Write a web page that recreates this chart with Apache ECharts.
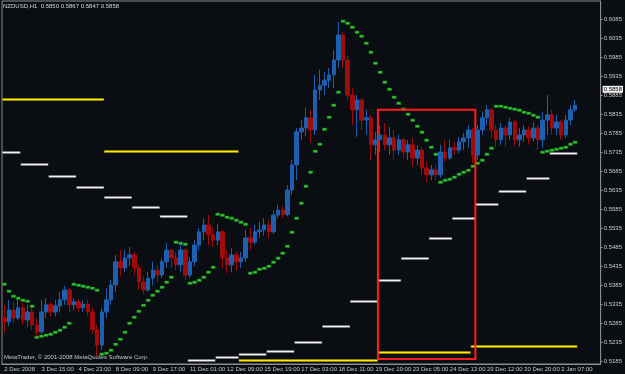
<!DOCTYPE html>
<html><head><meta charset="utf-8">
<script src="https://cdn.jsdelivr.net/npm/echarts@6/dist/echarts.min.js"></script>
<style>html,body{margin:0;padding:0;background:#0a0d11;}#c{width:625px;height:374px;}</style>
</head><body><div id="c"></div>
<script>
const symbolTitle = 'NZDUSD,H1';
const lastBar = [0.5850, 0.5867, 0.5847, 0.5858];
const copyright = 'MetaTrader, \u00a9 2001-2008 MetaQuotes Software Corp.';
const timeLabels = ['2 Dec 2008','3 Dec 15:00','4 Dec 23:00','8 Dec 09:00','9 Dec 17:00','11 Dec 01:00','12 Dec 09:00','15 Dec 19:00','17 Dec 03:00','18 Dec 11:00','19 Dec 19:00','23 Dec 05:00','24 Dec 13:00','29 Dec 12:00','30 Dec 20:00','2 Jan 07:00'];
const labelEvery = 8;
const barCount = 129;
const yTicks = [0.5185,0.5235,0.5285,0.5335,0.5385,0.5435,0.5485,0.5535,0.5585,0.5635,0.5685,0.5735,0.5785,0.5835,0.5885,0.5935,0.5985,0.6035,0.6085];
const yMin = 0.51771, yMax = 0.61324;
// [open, close, low, high] per 4-hour bar
const ohlc = [
[0.5298,0.5288,0.5259,0.5333],[0.5288,0.5319,0.5277,0.5346],[0.5319,0.5298,0.5285,0.5341],[0.5298,0.5325,0.5293,0.5346],
[0.5325,0.5293,0.5282,0.5338],[0.5293,0.5314,0.5275,0.5333],[0.5314,0.5280,0.5267,0.5325],[0.5280,0.5262,0.5249,0.5298],
[0.5262,0.5314,0.5256,0.5346],[0.5314,0.5333,0.5298,0.5351],[0.5333,0.5314,0.5301,0.5341],[0.5314,0.5330,0.5303,0.5346],
[0.5330,0.5346,0.5314,0.5367],[0.5346,0.5372,0.5333,0.5382],[0.5372,0.5333,0.5314,0.5377],[0.5333,0.5341,0.5319,0.5351],
[0.5341,0.5325,0.5314,0.5346],[0.5325,0.5335,0.5314,0.5346],[0.5335,0.5314,0.5303,0.5346],[0.5314,0.5267,0.5256,0.5325],
[0.5267,0.5227,0.5198,0.5280],[0.5227,0.5314,0.5214,0.5325],[0.5314,0.5346,0.5298,0.5377],[0.5346,0.5385,0.5333,0.5398],
[0.5385,0.5446,0.5367,0.5464],[0.5446,0.5430,0.5408,0.5477],[0.5430,0.5456,0.5419,0.5477],[0.5456,0.5464,0.5435,0.5485],
[0.5464,0.5430,0.5411,0.5472],[0.5430,0.5393,0.5372,0.5438],[0.5393,0.5372,0.5361,0.5408],[0.5372,0.5403,0.5367,0.5419],
[0.5403,0.5424,0.5385,0.5446],[0.5424,0.5411,0.5393,0.5438],[0.5411,0.5446,0.5403,0.5456],[0.5446,0.5477,0.5430,0.5495],
[0.5477,0.5456,0.5430,0.5477],[0.5456,0.5438,0.5424,0.5472],[0.5438,0.5477,0.5419,0.5495],[0.5477,0.5411,0.5398,0.5482],
[0.5411,0.5446,0.5403,0.5459],[0.5446,0.5490,0.5435,0.5503],[0.5490,0.5525,0.5477,0.5535],[0.5525,0.5543,0.5503,0.5561],
[0.5543,0.5517,0.5490,0.5569],[0.5517,0.5503,0.5485,0.5535],[0.5503,0.5525,0.5490,0.5545],[0.5525,0.5456,0.5430,0.5530],
[0.5456,0.5438,0.5416,0.5477],[0.5438,0.5464,0.5419,0.5482],[0.5464,0.5446,0.5424,0.5472],[0.5446,0.5456,0.5430,0.5472],
[0.5456,0.5509,0.5446,0.5530],[0.5509,0.5498,0.5477,0.5535],[0.5498,0.5525,0.5492,0.5543],[0.5525,0.5530,0.5509,0.5551],
[0.5530,0.5543,0.5514,0.5561],[0.5543,0.5525,0.5509,0.5556],[0.5525,0.5569,0.5519,0.5582],[0.5569,0.5582,0.5561,0.5596],
[0.5582,0.5571,0.5561,0.5593],[0.5571,0.5635,0.5566,0.5648],[0.5635,0.5701,0.5622,0.5714],[0.5701,0.5788,0.5661,0.5798],
[0.5788,0.5798,0.5767,0.5819],[0.5798,0.5825,0.5777,0.5851],[0.5825,0.5793,0.5759,0.5846],[0.5793,0.5898,0.5780,0.5938],
[0.5898,0.5911,0.5872,0.5951],[0.5911,0.5924,0.5885,0.5946],[0.5924,0.5938,0.5903,0.5956],[0.5938,0.5977,0.5903,0.6003],
[0.5977,0.6043,0.5956,0.6077],[0.6043,0.5977,0.5956,0.6051],[0.5977,0.5885,0.5872,0.5990],[0.5885,0.5846,0.5806,0.5903],
[0.5846,0.5872,0.5775,0.5885],[0.5872,0.5819,0.5793,0.5877],[0.5819,0.5825,0.5780,0.5846],[0.5825,0.5754,0.5714,0.5833],
[0.5754,0.5767,0.5727,0.5788],[0.5767,0.5780,0.5735,0.5806],[0.5780,0.5754,0.5740,0.5811],[0.5754,0.5772,0.5727,0.5801],
[0.5772,0.5740,0.5714,0.5793],[0.5740,0.5767,0.5727,0.5780],[0.5767,0.5735,0.5719,0.5772],[0.5735,0.5754,0.5714,0.5767],
[0.5754,0.5719,0.5696,0.5772],[0.5719,0.5740,0.5701,0.5754],[0.5740,0.5693,0.5675,0.5749],[0.5693,0.5675,0.5656,0.5709],
[0.5675,0.5688,0.5661,0.5701],[0.5688,0.5675,0.5661,0.5701],[0.5675,0.5735,0.5667,0.5754],[0.5735,0.5719,0.5709,0.5767],
[0.5719,0.5746,0.5714,0.5767],[0.5746,0.5740,0.5727,0.5762],[0.5740,0.5762,0.5732,0.5775],[0.5762,0.5772,0.5740,0.5785],
[0.5772,0.5793,0.5746,0.5806],[0.5793,0.5727,0.5706,0.5798],[0.5727,0.5793,0.5714,0.5806],[0.5793,0.5825,0.5780,0.5841],
[0.5825,0.5846,0.5806,0.5859],[0.5846,0.5793,0.5772,0.5851],[0.5793,0.5767,0.5749,0.5806],[0.5767,0.5798,0.5754,0.5811],
[0.5798,0.5780,0.5749,0.5806],[0.5780,0.5814,0.5767,0.5825],[0.5814,0.5767,0.5749,0.5819],[0.5767,0.5780,0.5749,0.5798],
[0.5780,0.5793,0.5762,0.5806],[0.5793,0.5772,0.5754,0.5803],[0.5772,0.5798,0.5762,0.5814],[0.5798,0.5767,0.5740,0.5806],
[0.5767,0.5819,0.5746,0.5841],[0.5819,0.5833,0.5780,0.5885],[0.5833,0.5798,0.5780,0.5846],[0.5798,0.5814,0.5780,0.5833],
[0.5814,0.5780,0.5767,0.5819],[0.5780,0.5819,0.5772,0.5833],[0.5819,0.5846,0.5806,0.5859],[0.5846,0.5858,0.5841,0.5872]
];
// Parabolic-SAR style steps, one value per bar
const sar = [
0.5387,0.5369,0.5356,0.5351,0.5346,0.5343,0.5330,
0.5249,0.5251,0.5254,0.5256,0.5262,0.5267,0.5275,0.5285,
0.5387,0.5385,0.5382,0.5380,0.5377,0.5372,
0.5203,0.5206,0.5214,0.5229,0.5243,0.5262,0.5285,0.5301,0.5316,0.5333,0.5346,0.5359,0.5369,0.5380,0.5393,0.5406,
0.5498,0.5495,0.5492,
0.5390,0.5393,0.5398,0.5406,0.5419,0.5433,
0.5571,0.5569,0.5564,0.5561,0.5556,0.5551,0.5545,
0.5416,0.5419,0.5427,0.5430,0.5435,0.5446,0.5456,0.5469,0.5487,0.5525,0.5561,0.5601,0.5645,0.5683,0.5737,0.5756,0.5795,0.5828,0.5859,0.5893,
0.6079,0.6074,0.6064,0.6051,0.6040,0.6022,0.5998,0.5969,0.5946,0.5919,0.5900,0.5880,0.5864,0.5848,0.5835,0.5819,0.5803,0.5788,0.5767,0.5749,0.5729,
0.5656,0.5661,0.5664,0.5670,0.5677,0.5683,0.5688,0.5698,0.5706,0.5714,0.5729,0.5746,
0.5856,0.5855,0.5854,0.5851,0.5848,0.5846,0.5841,0.5838,0.5833,0.5828,
0.5735,0.5738,0.5740,0.5743,0.5746,0.5749,0.5756,0.5762
];
// [startBar, endBar, price]
const dailyLevels = [[0,4,0.5735],[4,10,0.5703],[10,16,0.5672],[16,22,0.5643],[22,28,0.5617],[28,34,0.5591],[34,40,0.5566],[40,46,0.5188],[46,51,0.5196],[51,57,0.5203],[57,63,0.5211],[63,69,0.5235],[69,75,0.5277],[75,81,0.5343],[81,86,0.5398],[86,92,0.5456],[92,97,0.5509],[97,102,0.5561],[102,107,0.5598],[107,113,0.5632],[113,118,0.5667],[118,124,0.5732]];
const weeklyLevels = [[0,22,0.5874],[22,51,0.5737],[51,81,0.5188],[81,101,0.5209],[101,124,0.5224]];
// [startBar, endBar, topPrice, bottomPrice]
const boxes = [[81,102,0.5846,0.5190]];

const FONT = '"Liberation Sans",Arial,sans-serif';
const FS = 6;
const categories = Array.from({length: barCount}, (_, i) => (i % labelEvery === 0 && timeLabels[i / labelEvery]) ? timeLabels[i / labelEvery] : '');

function segRender(color, width, edge) {
  return function (params, api) {
    const band = api.size([1, 0])[0];
    const p1 = api.coord([api.value(0), api.value(2)]);
    const p2 = api.coord([api.value(1), api.value(2)]);
    const x1 = p1[0] - band / 2, x2 = p2[0] - band / 2, y = Math.round(p1[1]) + 0.5;
    return {type: 'group', children: [
      {type: 'line', shape: {x1, y1: y, x2, y2: y}, style: {stroke: edge, lineWidth: width + 1}},
      {type: 'line', shape: {x1: x1 + 0.5, y1: y, x2: x2 - 0.5, y2: y}, style: {stroke: color, lineWidth: width}}
    ]};
  };
}

const chart = echarts.init(document.getElementById('c'), null, {renderer: 'canvas'});
chart.setOption({
  backgroundColor: '#0a0d11',
  animation: false,
  title: {
    text: symbolTitle + '  ' + lastBar.map(v => v.toFixed(4)).join(' '),
    left: 3, top: 3, padding: 0,
    textStyle: {color: '#d6d6d6', fontSize: FS, fontWeight: 'normal', fontFamily: FONT}
  },
  graphic: [{type: 'text', left: 4, top: 354, style: {text: copyright, fill: '#c8c8c8', font: FS + 'px ' + FONT}}],
  grid: {left: 2, top: 1, width: 601, height: 363, show: true, borderColor: '#8c8c8c', borderWidth: 1, backgroundColor: 'transparent'},
  xAxis: {
    type: 'category', data: categories, boundaryGap: true,
    axisLine: {lineStyle: {color: '#8c8c8c'}},
    axisTick: {interval: (i) => i % labelEvery === 0, length: 3, lineStyle: {color: '#8c8c8c'}},
    axisLabel: {interval: (i) => i % labelEvery === 0, align: 'left', margin: 2, color: '#c8c8c8', fontSize: FS, fontFamily: FONT},
    splitLine: {show: false}
  },
  yAxis: {
    type: 'value', position: 'right', min: yMin, max: yMax, scale: true,
    axisLine: {show: true, lineStyle: {color: '#8c8c8c'}},
    axisTick: {show: true, customValues: yTicks, length: 2, lineStyle: {color: '#8c8c8c'}},
    axisLabel: {customValues: yTicks, formatter: v => v.toFixed(4), margin: 3, color: '#c8c8c8', fontSize: FS, fontFamily: FONT},
    splitLine: {show: false}
  },
  series: [
    {
      type: 'candlestick', data: ohlc, barWidth: 4,
      itemStyle: {color: '#1d5fb0', color0: '#a00c0c', borderColor: '#1d5fb0', borderColor0: '#a00c0c', borderWidth: 1},
      markLine: {
        silent: true, symbol: 'none', animation: false,
        lineStyle: {color: 'rgba(0,0,0,0)', width: 0},
        data: [{yAxis: lastBar[3]}],
        label: {show: true, position: 'end', distance: 2, formatter: () => lastBar[3].toFixed(4), color: '#000', backgroundColor: '#f0f0f0', padding: [1, 1, 0, 1], fontSize: FS, fontFamily: FONT}
      }
    },
    {
      type: 'custom', data: sar.map((v, i) => [i, v]), encode: {x: 0, y: 1},
      renderItem: function (params, api) {
        const band = api.size([1, 0])[0];
        const p = api.coord([api.value(0), api.value(1)]);
        return {type: 'rect', shape: {x: p[0] - band / 2 + 0.3, y: Math.round(p[1]) - 1, width: band - 0.6, height: 2.5},
          style: {fill: '#33c433', stroke: '#1a7a1a', lineWidth: 0.5}};
      }
    },
    {type: 'custom', data: dailyLevels, encode: {x: 0, y: 2}, renderItem: segRender('#f2f2f2', 1.5, '#6a6a6a')},
    {type: 'custom', data: weeklyLevels, encode: {x: 0, y: 2}, renderItem: segRender('#ffee00', 1.5, '#8a7a00')},
    {
      type: 'custom', data: boxes, encode: {x: 0, y: [2, 3]},
      renderItem: function (params, api) {
        const band = api.size([1, 0])[0];
        const a = api.coord([api.value(0), api.value(2)]);
        const b = api.coord([api.value(1), api.value(3)]);
        return {type: 'rect', shape: {x: a[0] - band / 2, y: a[1], width: b[0] - a[0], height: b[1] - a[1]},
          style: {fill: 'none', stroke: '#ff1c1c', lineWidth: 2}};
      }
    }
  ]
});
</script>
</body></html>
